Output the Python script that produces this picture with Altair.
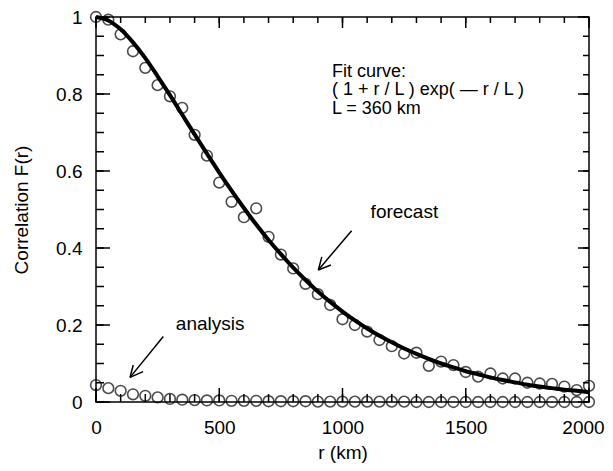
import altair as alt
import pandas as pd

FONT = "Liberation Sans"

# distances (km)
r_obs = [i * 50 for i in range(41)]

forecast = [1.000, 0.993, 0.955, 0.911, 0.868, 0.823, 0.794, 0.764, 0.694, 0.640,
            0.570, 0.520, 0.480, 0.503, 0.429, 0.383, 0.347, 0.307, 0.280, 0.252,
            0.215, 0.200, 0.183, 0.161, 0.145, 0.126, 0.128, 0.094, 0.105, 0.096,
            0.078, 0.066, 0.074, 0.061, 0.061, 0.050, 0.048, 0.047, 0.040, 0.031,
            0.042]

analysis = [0.044, 0.036, 0.029, 0.020, 0.016, 0.012, 0.008, 0.006, 0.005, 0.004,
            0.004, 0.003, 0.003, 0.003, 0.002, 0.002, 0.002, 0.002, 0.001, 0.001,
            0.001, 0.001, 0.001, 0.001, 0.001, 0.001, 0.000, 0.000, 0.000, 0.000,
            0.000, 0.000, 0.000, 0.000, 0.000, 0.000, 0.000, 0.000, 0.000, 0.000,
            0.000]

# fit curve read at 50 km steps
fit_curve = [1.0, 0.991, 0.968, 0.934, 0.893, 0.846, 0.797, 0.746, 0.695, 0.645,
             0.596, 0.549, 0.504, 0.461, 0.421, 0.384, 0.349, 0.317, 0.287, 0.260,
             0.235, 0.212, 0.191, 0.172, 0.155, 0.139, 0.125, 0.112, 0.100, 0.090,
             0.080, 0.072, 0.064, 0.057, 0.051, 0.045, 0.040, 0.036, 0.032, 0.029,
             0.025]

x_major = [0, 500, 1000, 1500, 2000]
x_minor = [i * 100 for i in range(21)]
y_major = [0, 0.2, 0.4, 0.6, 0.8, 1.0]
y_minor = [round(i * 0.05, 2) for i in range(21)]

# annotation texts and anchor (data units)
fit_text = ["Fit curve:", "( 1 + r / L ) exp( \u2014 r / L )", "L  = 360  km"]
fit_r = [957, 957, 957]
fit_F = [0.845, 0.797, 0.749]

lab_text = ["forecast", "analysis"]
lab_r = [1114, 324]
lab_F = [0.477, 0.187]

# arrow segments (data units)
seg_x1 = [1037, 902, 902, 273, 138, 138]
seg_y1 = [0.445, 0.343, 0.343, 0.170, 0.064, 0.064]
seg_x2 = [902, 916, 953, 138, 151, 191]
seg_y2 = [0.343, 0.377, 0.356, 0.064, 0.096, 0.079]

W, H = 493, 385

obs = pd.DataFrame({"r": r_obs, "forecast": forecast, "analysis": analysis, "fit": fit_curve})
fitann = pd.DataFrame({"r": fit_r, "F": fit_F, "t": fit_text})
labann = pd.DataFrame({"r": lab_r, "F": lab_F, "t": lab_text})
segs = pd.DataFrame({"x1": seg_x1, "y1": seg_y1, "x2": seg_x2, "y2": seg_y2})

xs = alt.Scale(domain=[0, 2000], nice=False, zero=False)
ys = alt.Scale(domain=[0, 1], nice=False, zero=False)

xaxis = alt.Axis(values=x_major, format="d", title="r (km)", ticks=False, tickSize=0, domain=False,
                 grid=False, labelFont=FONT, labelFontSize=19, labelColor="black", labelPadding=16,
                 labelOffset={"condition": {"test": "datum.value === 2000", "value": -6}, "value": 0},
                 titleFont=FONT, titleFontSize=19, titleFontWeight="normal", titleColor="black",
                 titlePadding=6, labelFlush=False)
yaxis = alt.Axis(values=y_major, format="~g", title="Correlation F(r)", ticks=False, tickSize=0,
                 domain=False, grid=False, labelFont=FONT, labelFontSize=19, labelColor="black",
                 labelPadding=14, titleFont=FONT, titleFontSize=19, titleFontWeight="normal",
                 titleColor="black", titlePadding=24, labelFlush=False)

base = alt.Chart(obs)

fit = base.mark_line(color="black", strokeWidth=4, interpolate="monotone").encode(
    x=alt.X("r:Q", scale=xs, axis=xaxis),
    y=alt.Y("fit:Q", scale=ys, axis=yaxis),
)
pts_f = base.mark_point(shape="circle", filled=False, size=115, strokeWidth=1.6, color="black").encode(
    x=alt.X("r:Q", scale=xs), y=alt.Y("forecast:Q", scale=ys))
pts_a = base.mark_point(shape="circle", filled=False, size=115, strokeWidth=1.6, color="black").encode(
    x=alt.X("r:Q", scale=xs), y=alt.Y("analysis:Q", scale=ys))

dxM = pd.DataFrame({"v": x_major})
dxm = pd.DataFrame({"v": x_minor})
dyM = pd.DataFrame({"v": y_major})
dym = pd.DataFrame({"v": y_minor})


def xticks(df, y0, y1):
    return alt.Chart(df).mark_rule(color="black", strokeWidth=1.5).encode(
        x=alt.X("v:Q", scale=xs), y=alt.value(y0), y2=alt.value(y1))


def yticks(df, x0, x1):
    return alt.Chart(df).mark_rule(color="black", strokeWidth=1.5).encode(
        y=alt.Y("v:Q", scale=ys), x=alt.value(x0), x2=alt.value(x1))


ticks = [
    xticks(dxM, H, H - 14), xticks(dxm, H, H - 8),
    xticks(dxM, 0, 11), xticks(dxm, 0, 6),
    yticks(dyM, 0, 14), yticks(dym, 0, 8),
    yticks(dyM, W, W - 11), yticks(dym, W, W - 6),
]

fit_texts = alt.Chart(fitann).mark_text(align="left", baseline="alphabetic", font=FONT, fontSize=18,
                                        color="black").encode(
    x=alt.X("r:Q", scale=xs), y=alt.Y("F:Q", scale=ys), text="t:N")

lab_texts = alt.Chart(labann).mark_text(align="left", baseline="alphabetic", font=FONT, fontSize=19,
                                        color="black").encode(
    x=alt.X("r:Q", scale=xs), y=alt.Y("F:Q", scale=ys), text="t:N")

arrows = alt.Chart(segs).mark_rule(color="black", strokeWidth=1.5).encode(
    x=alt.X("x1:Q", scale=xs), y=alt.Y("y1:Q", scale=ys),
    x2="x2:Q", y2="y2:Q")

chart = alt.layer(fit, *ticks, pts_f, pts_a, fit_texts, lab_texts, arrows).properties(
    width=W, height=H,
    autosize=alt.AutoSizeParams(type="none"),
    padding={"left": 88, "top": 9, "right": 16, "bottom": 61},
    background="white",
).configure_view(stroke="black", strokeWidth=1.5)

chart.save("out.html", embed_options={"renderer": "svg", "actions": False})
